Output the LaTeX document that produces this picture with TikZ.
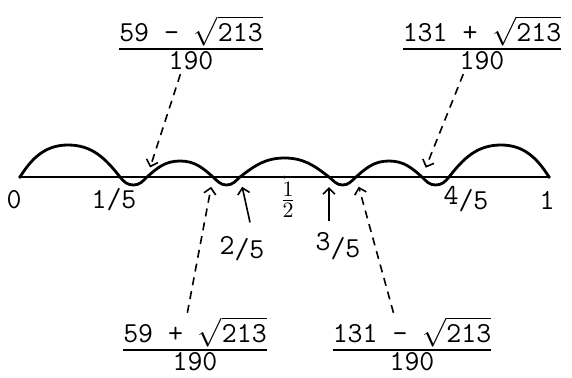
\documentclass[tikz,border=0pt]{standalone}
\usepackage{amsmath}
\usetikzlibrary{arrows.meta}
\newcommand{\rootfrac}[2]{$\genfrac{}{}{0.9pt}{1}{\mbox{#1\ #2\ }\sqrt{\mbox{213}}}{\mbox{190}}$}
\newcommand{\upfrac}[3]{\raisebox{#3}{#1}/#2}
\tikzset{
  lbl/.style={font=\fontsize{14.5}{17}\selectfont\ttfamily, inner sep=1pt},
  dasharrow/.style={-{Straight Barb[length=3pt,width=6pt]}, line width=0.8pt, dash pattern=on 4pt off 3pt, shorten <=1pt, shorten >=5pt},
  solidarrow/.style={-{Straight Barb[length=3pt,width=6pt]}, line width=0.8pt, shorten >=5pt},
}
\begin{document}
\begin{tikzpicture}[x=0.5pt,y=0.5pt]
  \useasboundingbox (0,0) rectangle (572,377);
  % points on the axis
  \coordinate (p0) at (20,200);
  \coordinate (p1) at (549,200);
  \coordinate (m) at (284.5,200);
  \coordinate (h1) at (68,232);
  \coordinate (c1) at (120,200);
  \coordinate (d1) at (133.5,192);
  \coordinate (c2) at (147,200);
  \coordinate (h2) at (180,216);
  \coordinate (c3) at (213,200);
  \coordinate (d2) at (226.5,192);
  \coordinate (c4) at (240,200);
  \coordinate (h3) at (284.5,219);
  \coordinate (c5) at (329,200);
  \coordinate (d3) at (342.5,192);
  \coordinate (c6) at (356,200);
  \coordinate (h4) at (389,216);
  \coordinate (c7) at (422,200);
  \coordinate (d4) at (435.5,192);
  \coordinate (c8) at (449,200);
  \coordinate (h5) at (501,232);
  \draw[line width=0.9pt] (p0) -- (p1);
  \fill (p0) circle (1.8) (p1) circle (1.8) (m) circle (1.5);
  \draw[line width=1.4pt] (p0) to[out=58,in=180] (h1) to[out=0,in=128] (c1)
    to[out=-52,in=180] (d1) to[out=0,in=-135] (c2) to[out=42,in=180] (h2)
    to[out=0,in=138] (c3) to[out=-42,in=180] (d2) to[out=0,in=-138] (c4)
    to[out=38,in=180] (h3) to[out=0,in=142] (c5) to[out=-38,in=180] (d3)
    to[out=0,in=-138] (c6) to[out=42,in=180] (h4) to[out=0,in=138] (c7)
    to[out=-45,in=180] (d4) to[out=0,in=-128] (c8) to[out=52,in=180] (h5)
    to[out=0,in=122] (p1);
  % axis labels
  \node[lbl] (n0) at (14,177) {0};
  \node[lbl] (f15) at (114,177) {1/5};
  \node[lbl,font=\fontsize{15}{16}\selectfont] (f12) at (288,177) {$\frac{1}{2}$};
  \node[lbl] (f45) at (466,178) {\upfrac{4}{5}{2.5pt}};
  \node[lbl] (n1) at (547,177) {1};
  \node[lbl] (f25) at (242,128) {\upfrac{2}{5}{2pt}};
  \node[lbl] (f35) at (338,131) {\upfrac{3}{5}{3.5pt}};
  % roots
  \node[lbl] (fA) at (191,334) {\rootfrac{59}{-}};
  \node[lbl] (fD) at (482,334) {\rootfrac{131}{+}};
  \node[lbl] (fB) at (195,33) {\rootfrac{59}{+}};
  \node[lbl] (fC) at (412,33) {\rootfrac{131}{-}};
  \coordinate (t25) at ([xshift=4pt,yshift=6pt]f25.north);
  \coordinate (t35) at ([xshift=-4.5pt,yshift=4.5pt]f35.north);
  \draw[dasharrow] ([xshift=-5pt]fA.south) -- (c2);
  \draw[dasharrow] ([xshift=-9pt]fD.south) -- (c7);
  \draw[dasharrow] ([xshift=-4pt]fB.north) -- (c3);
  \draw[dasharrow] ([xshift=-9pt]fC.north) -- (c6);
  \draw[solidarrow] (t25) -- (c4);
  \draw[solidarrow] (t35) -- (c5);
\end{tikzpicture}
\end{document}
